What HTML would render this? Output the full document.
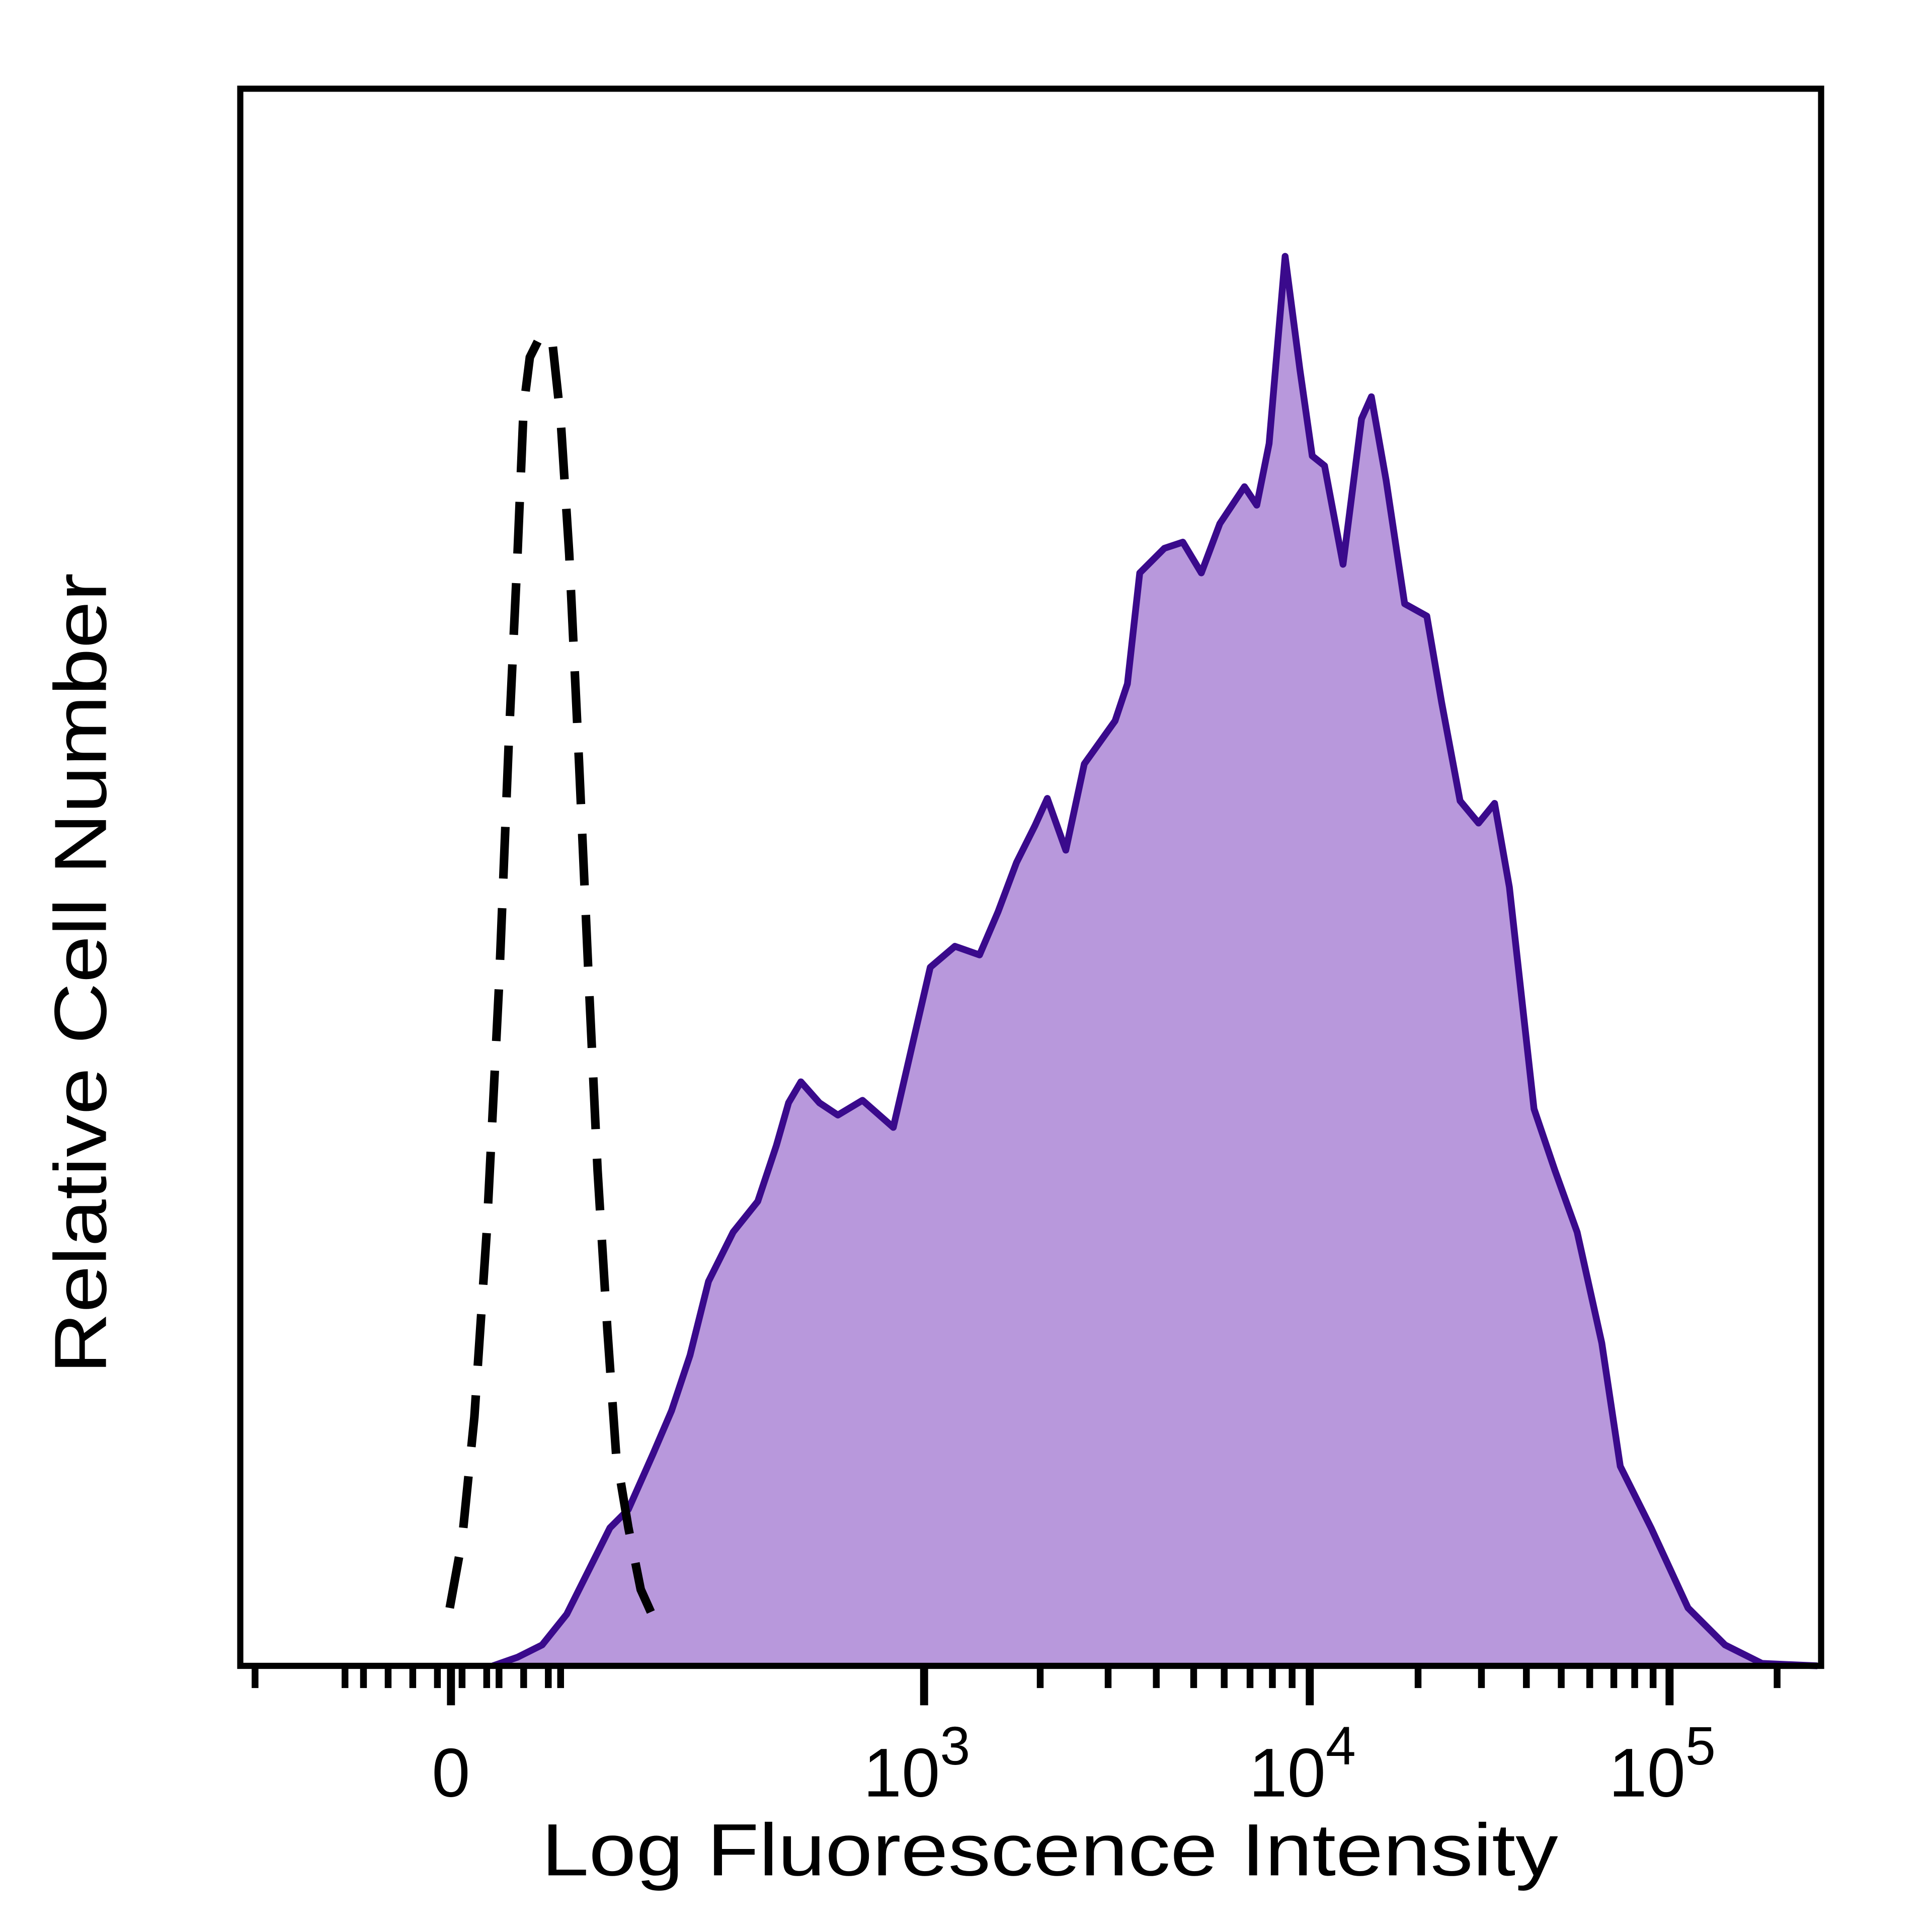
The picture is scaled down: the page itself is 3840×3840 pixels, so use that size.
<!DOCTYPE html>
<html><head><meta charset="utf-8"><style>html,body{margin:0;padding:0;background:#fff}svg{display:block}</style></head>
<body>
<svg id="chart" width="3840" height="3840" viewBox="0 0 1568 1568" xmlns="http://www.w3.org/2000/svg">
<rect x="0" y="0" width="1568" height="1568" fill="#fff"/>
<g id="plot"></g>
<text x="852" y="1522" font-family="Liberation Sans, sans-serif" font-size="60" text-anchor="middle" textLength="825" lengthAdjust="spacingAndGlyphs">Log Fluorescence Intensity</text>
<text transform="translate(86,790) rotate(-90)" font-family="Liberation Sans, sans-serif" font-size="60" text-anchor="middle" textLength="650" lengthAdjust="spacingAndGlyphs">Relative Cell Number</text>
</svg>
<script>
// channel units (0..1283) and relative cell counts
const stainedChannels=[205,225,245,265,285,300,315,335,350,365,380,400,420,435,445,455,470,485,505,530,545,560,580,600,615,630,645,655,670,685,710,720,730,750,765,780,795,815,825,835,848,860,870,880,895,910,918,930,945,963,975,990,1005,1018,1030,1050,1067,1085,1105,1120,1145,1175,1205,1235,1280];
const stainedCounts=[0,7,17,42,82,112,127,172,207,252,312,352,377,422,457,474,457,447,459,437,502,567,584,577,612,652,682,704,662,732,767,797,887,907,912,887,927,957,942,992,1144,1052,982,974,894,1012,1030,962,862,852,782,702,684,700,632,452,402,352,262,162,112,47,17,2,0];
const controlChannels=[170,180,190,200,210,218,225,230,235,245,253,260,267,275,283,290,298,305,315,325,343];
const controlCounts=[47,102,202,352,552,752,902,1022,1062,1082,1077,1012,902,732,552,402,272,172,112,62,22];
const tickLabels=["0","3","4","5"];
const tickChannels=[171,555,868,1160];

const L=195,R=1478,T=72,B=1352;
const xs=c=>L+c*(R-L)/1283;
const ys=v=>B-v*(B-T)/1280;
const NS="http://www.w3.org/2000/svg";
const plot=document.getElementById('plot');
function mk(t,a){const e=document.createElementNS(NS,t);for(const k in a)e.setAttribute(k,a[k]);return e;}

let d=`M${xs(stainedChannels[0])},${ys(0)}`;
stainedChannels.forEach((c,i)=>{d+=` L${xs(c)},${ys(stainedCounts[i])}`;});
const area=mk('path',{d:d+` L${xs(stainedChannels[stainedChannels.length-1])},${ys(0)} Z`,fill:'#b898dc',stroke:'none'});


plot.appendChild(area);
const line=mk('path',{d:d,fill:'none',stroke:'#3a0a8c','stroke-width':5.5,'stroke-linejoin':'round'});


plot.appendChild(line);

let d2='';
controlChannels.forEach((c,i)=>{d2+=(i?' L':'M')+xs(c)+','+ys(controlCounts[i]);});
const ctl=mk('path',{d:d2,fill:'none',stroke:'#000','stroke-width':7,'stroke-dasharray':'42 24'});


plot.appendChild(ctl);

const frame=mk('rect',{x:L,y:T,width:R-L,height:B-T,fill:'none',stroke:'#000','stroke-width':5});


plot.appendChild(frame);

// minor ticks
const minor=[];
[[555,313],[868,292],[1160,290]].forEach(([s,w])=>{for(let k=2;k<=9;k++)minor.push(s+w*Math.log10(k));});
[12,85,100,120,140,160,180,200,210,230,250,260].forEach(c=>minor.push(c));
minor.forEach(c=>{if(c>0&&c<1283){const t=mk('line',{x1:xs(c),x2:xs(c),y1:B,y2:B+18,stroke:'#000','stroke-width':5.5});


plot.appendChild(t);}});
tickChannels.forEach((c,i)=>{
 const t=mk('line',{x1:xs(c),x2:xs(c),y1:B,y2:B+32,stroke:'#000','stroke-width':6.5});
 
 
 plot.appendChild(t);
 const tx=mk('text',{x:xs(c),y:1458,'font-family':'Liberation Sans, sans-serif','font-size':56,'text-anchor':'middle'});
 
 
 if(i===0){tx.textContent=tickLabels[i];}
 else{tx.setAttribute('x',xs(c)-6);tx.textContent='10';const sp=mk('tspan',{dy:-26,'font-size':44});sp.textContent=tickLabels[i];tx.appendChild(sp);}
 plot.appendChild(tx);
});
</script>
</body></html>
